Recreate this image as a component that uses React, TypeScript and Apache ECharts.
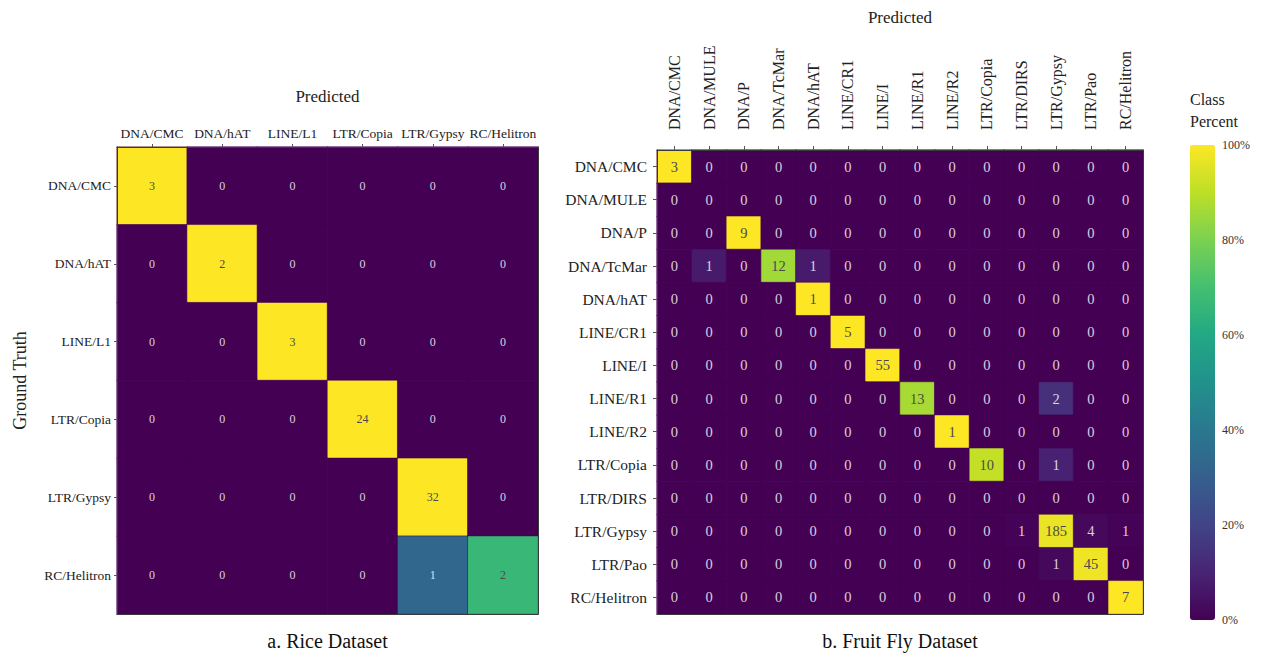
import React, { useEffect, useRef } from "react";
import * as echarts from "echarts";

const riceCats = ["DNA/CMC", "DNA/hAT", "LINE/L1", "LTR/Copia", "LTR/Gypsy", "RC/Helitron"];
const riceMatrix = [
  [3, 0, 0, 0, 0, 0],
  [0, 2, 0, 0, 0, 0],
  [0, 0, 3, 0, 0, 0],
  [0, 0, 0, 24, 0, 0],
  [0, 0, 0, 0, 32, 0],
  [0, 0, 0, 0, 1, 2],
];

const flyCats = [
  "DNA/CMC", "DNA/MULE", "DNA/P", "DNA/TcMar", "DNA/hAT", "LINE/CR1", "LINE/I",
  "LINE/R1", "LINE/R2", "LTR/Copia", "LTR/DIRS", "LTR/Gypsy", "LTR/Pao", "RC/Helitron",
];
const flyMatrix = [
  [3, 0, 0, 0, 0, 0, 0, 0, 0, 0, 0, 0, 0, 0],
  [0, 0, 0, 0, 0, 0, 0, 0, 0, 0, 0, 0, 0, 0],
  [0, 0, 9, 0, 0, 0, 0, 0, 0, 0, 0, 0, 0, 0],
  [0, 1, 0, 12, 1, 0, 0, 0, 0, 0, 0, 0, 0, 0],
  [0, 0, 0, 0, 1, 0, 0, 0, 0, 0, 0, 0, 0, 0],
  [0, 0, 0, 0, 0, 5, 0, 0, 0, 0, 0, 0, 0, 0],
  [0, 0, 0, 0, 0, 0, 55, 0, 0, 0, 0, 0, 0, 0],
  [0, 0, 0, 0, 0, 0, 0, 13, 0, 0, 0, 2, 0, 0],
  [0, 0, 0, 0, 0, 0, 0, 0, 1, 0, 0, 0, 0, 0],
  [0, 0, 0, 0, 0, 0, 0, 0, 0, 10, 0, 1, 0, 0],
  [0, 0, 0, 0, 0, 0, 0, 0, 0, 0, 0, 0, 0, 0],
  [0, 0, 0, 0, 0, 0, 0, 0, 0, 0, 1, 185, 4, 1],
  [0, 0, 0, 0, 0, 0, 0, 0, 0, 0, 0, 1, 45, 0],
  [0, 0, 0, 0, 0, 0, 0, 0, 0, 0, 0, 0, 0, 7],
];

const percentTicks = [0, 20, 40, 60, 80, 100];

const viridis = [
  "#440154", "#482475", "#414487", "#355f8d", "#2a788e", "#21918c",
  "#22a884", "#44bf70", "#7ad151", "#bddf26", "#fde725",
];

const FONT = "'Liberation Serif', 'DejaVu Serif', serif";

function buildData(matrix: number[][]) {
  const out: any[] = [];
  matrix.forEach((row, yi) => {
    const total = row.reduce((a, b) => a + b, 0);
    row.forEach((v, xi) => {
      const pct = total > 0 ? (v / total) * 100 : 0;
      out.push({
        value: [xi, yi, v, pct],
        label: { color: pct >= 50 ? "#4a4a4a" : "rgba(255,255,255,0.82)" },
      });
    });
  });
  return out;
}

export default function App() {
  const ref = useRef<HTMLDivElement>(null);
  useEffect(() => {
    document.body.style.margin = "0";
    if (!ref.current) return;
    const chart = echarts.init(ref.current, null, { renderer: "svg" });
    const frameLine = { show: true, lineStyle: { color: "#3a3a3a", width: 1 } };
    const option: any = {
      animation: false,
      backgroundColor: "#ffffff",
      textStyle: { fontFamily: FONT },
      title: {
        text: "Class\nPercent",
        left: 1190,
        top: 88,
        padding: 0,
        textStyle: { fontFamily: FONT, fontSize: 16, fontWeight: "normal", color: "#222", lineHeight: 22 },
      },
      grid: [
        { left: 117, top: 147, width: 421, height: 473 },
        { left: 657, top: 150, width: 486, height: 470 },
        { left: 1190, top: 145, width: 25, height: 475 },
      ],
      xAxis: [
        {
          type: "category", gridIndex: 0, position: "top", data: riceCats, z: 10,
          name: "Predicted", nameLocation: "middle", nameGap: 42,
          nameTextStyle: { fontFamily: FONT, fontSize: 17, color: "#222" },
          axisLine: frameLine,
          axisTick: { show: true, alignWithLabel: true, length: 3, lineStyle: { color: "#555" } },
          axisLabel: { interval: 0, fontFamily: FONT, fontSize: 13.5, color: "#222", margin: 7 },
          splitLine: { show: false },
        },
        {
          type: "category", gridIndex: 0, position: "bottom", data: riceCats, z: 10,
          name: "a. Rice Dataset", nameLocation: "middle", nameGap: 17,
          nameTextStyle: { fontFamily: FONT, fontSize: 20, color: "#111" },
          axisLine: frameLine, axisTick: { show: false }, axisLabel: { show: false },
        },
        {
          type: "category", gridIndex: 1, position: "top", data: flyCats, z: 10,
          name: "Predicted", nameLocation: "middle", nameGap: 124,
          nameTextStyle: { fontFamily: FONT, fontSize: 17, color: "#222" },
          axisLine: frameLine,
          axisTick: { show: true, alignWithLabel: true, length: 4, lineStyle: { color: "#555" } },
          axisLabel: { interval: 0, rotate: -90, fontFamily: FONT, fontSize: 16, color: "#222", margin: 20 },
        },
        {
          type: "category", gridIndex: 1, position: "bottom", data: flyCats, z: 10,
          name: "b. Fruit Fly Dataset", nameLocation: "middle", nameGap: 17,
          nameTextStyle: { fontFamily: FONT, fontSize: 20, color: "#111" },
          axisLine: frameLine, axisTick: { show: false }, axisLabel: { show: false },
        },
        {
          type: "value", gridIndex: 2, show: false, min: 0, max: 1,
        },
      ],
      yAxis: [
        {
          type: "category", gridIndex: 0, position: "left", data: riceCats, inverse: true, z: 10,
          name: "Ground Truth", nameLocation: "middle", nameGap: 88,
          nameTextStyle: { fontFamily: FONT, fontSize: 18, color: "#222" },
          axisLine: frameLine,
          axisTick: { show: true, alignWithLabel: true, length: 3, lineStyle: { color: "#555" } },
          axisLabel: { interval: 0, fontFamily: FONT, fontSize: 13.5, color: "#222", margin: 6 },
        },
        {
          type: "category", gridIndex: 0, position: "right", data: riceCats, inverse: true, z: 10,
          axisLine: frameLine, axisTick: { show: false }, axisLabel: { show: false },
        },
        {
          type: "category", gridIndex: 1, position: "left", data: flyCats, inverse: true, z: 10,
          axisLine: frameLine,
          axisTick: { show: true, alignWithLabel: true, length: 4, lineStyle: { color: "#555" } },
          axisLabel: { interval: 0, fontFamily: FONT, fontSize: 15.5, color: "#222", margin: 10 },
        },
        {
          type: "category", gridIndex: 1, position: "right", data: flyCats, inverse: true, z: 10,
          axisLine: frameLine, axisTick: { show: false }, axisLabel: { show: false },
        },
        {
          type: "value", gridIndex: 2, position: "right", min: 0, max: 100, interval: 20,
          axisLine: { show: false }, axisTick: { show: false }, splitLine: { show: false },
          axisLabel: { formatter: "{value}%", fontFamily: FONT, fontSize: 12, color: "#333", margin: 7 },
        },
      ],
      visualMap: {
        type: "continuous",
        min: 0,
        max: 100,
        dimension: 3,
        seriesIndex: [0, 1],
        calculable: false,
        left: 1190,
        top: 145,
        padding: 0,
        itemWidth: 25,
        itemHeight: 475,
        text: null,
        showLabel: false,
        inRange: { color: viridis },
      },
      series: [
        {
          type: "heatmap",
          xAxisIndex: 0,
          yAxisIndex: 0,
          data: buildData(riceMatrix),
          label: {
            show: true,
            fontFamily: FONT,
            fontSize: 12,
            formatter: (p: any) => String(p.value[2]),
          },
          itemStyle: { borderColor: "rgba(68,1,84,0.55)", borderWidth: 1 },
        },
        {
          type: "heatmap",
          xAxisIndex: 2,
          yAxisIndex: 2,
          data: buildData(flyMatrix),
          label: {
            show: true,
            fontFamily: FONT,
            fontSize: 14.5,
            formatter: (p: any) => String(p.value[2]),
          },
          itemStyle: { borderColor: "rgba(68,1,84,0.55)", borderWidth: 1 },
        },
      ],
    };
    chart.setOption(option);
    return () => chart.dispose();
  }, []);
  return <div ref={ref} style={{ width: 1262, height: 656 }} />;
}
